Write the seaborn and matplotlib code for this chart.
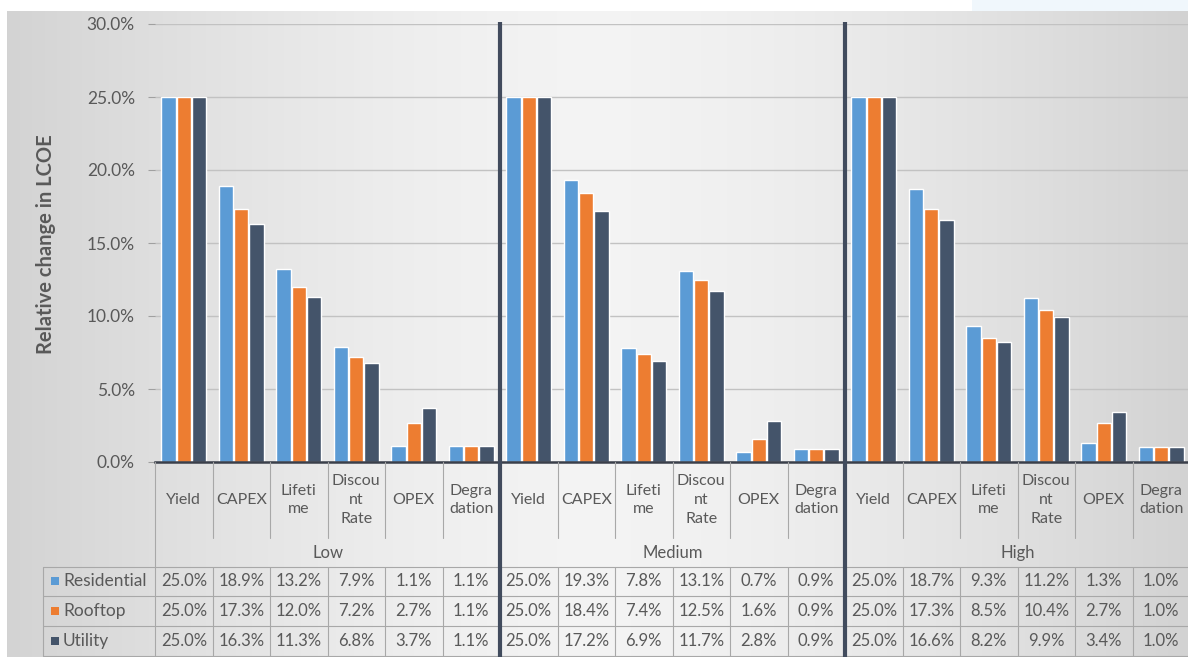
import numpy as np
import pandas as pd
import matplotlib
matplotlib.use("Agg")
import matplotlib.pyplot as plt
import seaborn as sns
from matplotlib import transforms
from matplotlib.lines import Line2D
from matplotlib.patches import Rectangle

# ---- data -----------------------------------------------------------------
groups = ["Low", "Medium", "High"]
factors = ["Yield", "CAPEX", "Lifeti\nme", "Discou\nnt\nRate", "OPEX", "Degra\ndation"]
series = ["Residential", "Rooftop", "Utility"]

residential = [25.0, 18.9, 13.2, 7.9, 1.1, 1.1,
               25.0, 19.3, 7.8, 13.1, 0.7, 0.9,
               25.0, 18.7, 9.3, 11.2, 1.3, 1.0]
rooftop = [25.0, 17.3, 12.0, 7.2, 2.7, 1.1,
           25.0, 18.4, 7.4, 12.5, 1.6, 0.9,
           25.0, 17.3, 8.5, 10.4, 2.7, 1.0]
utility = [25.0, 16.3, 11.3, 6.8, 3.7, 1.1,
           25.0, 17.2, 6.9, 11.7, 2.8, 0.9,
           25.0, 16.6, 8.2, 9.9, 3.4, 1.0]

yticks = [0, 5, 10, 15, 20, 25, 30]
colors = ["#5B9BD5", "#ED7D31", "#44546A"]
text_color = "#595959"

slots = [f"{g}|{f}" for g in groups for f in factors]
values = {"Residential": residential, "Rooftop": rooftop, "Utility": utility}
df = pd.DataFrame(
    [(s, name, v) for name in series for s, v in zip(slots, values[name])],
    columns=["slot", "series", "value"],
)

# ---- figure ---------------------------------------------------------------
W, H = 1188, 657
sns.set_theme(style="white")
plt.rcParams["font.family"] = ["Lato", "DejaVu Sans"]
fs = 12

fig = plt.figure(figsize=(W / 100, H / 100), dpi=100)


def fy(py):
    """pixel row (from top) -> figure fraction"""
    return 1 - py / H


def fx(px):
    return px / W


# soft horizontal gradient behind everything
bg = fig.add_axes([0, 0, 1, 1], zorder=-10)
t = np.linspace(-1, 1, W)
shade = 0.955 - 0.13 * np.abs(t) ** 1.5
rgb = np.dstack([np.tile(shade, (H, 1))] * 3)
rgb[:11, :, :] = 1.0
rgb[:11, 972:, :] = [0.945, 0.969, 0.992]
rgb[:, :7, :] = 1.0
bg.imshow(rgb, aspect="auto", extent=[0, W, H, 0], interpolation="bilinear")
bg.set_xlim(0, W)
bg.set_ylim(H, 0)
bg.axis("off")

# ---- bars -----------------------------------------------------------------
ax = fig.add_axes([fx(155), fy(462), 1035 / W, (462 - 24) / H])
ax.patch.set_alpha(0)
sns.barplot(data=df, x="slot", y="value", hue="series", order=slots,
            hue_order=series, palette=colors, saturation=1, width=0.8,
            gap=0.06, legend=False, ax=ax)

ax.set_xlim(-0.5, len(slots) - 0.5)
ax.set_ylim(0, 30)
ax.set_yticks(yticks)
ax.set_yticklabels([f"{v:.1f}%" for v in yticks])
ax.yaxis.grid(True, color="#c2c2c2", lw=1.0)
ax.set_axisbelow(True)
for side in ("left", "right", "top"):
    ax.spines[side].set_visible(False)
ax.spines["bottom"].set_color("#3a3f4a")
ax.spines["bottom"].set_linewidth(1.8)
ax.tick_params(axis="y", left=True, length=5, width=0.8, color="#a0a0a0",
               pad=9.5, labelsize=12.5, labelcolor=text_color)
ax.tick_params(axis="x", bottom=False, labelbottom=False)
ax.set_xlabel("")
ax.set_ylabel("")

fig.text(fx(46), fy(244), "Relative change in LCOE", rotation=90,
         ha="center", va="center", fontsize=14.5, fontweight="bold",
         color=text_color)

# ---- data table beneath the axis ------------------------------------------
tr = transforms.blended_transform_factory(ax.transData, fig.transFigure)
grid_col = "#a8a8a8"


def vline(x, py0, py1, trans=tr):
    fig.add_artist(Line2D([x, x], [fy(py0), fy(py1)], transform=trans,
                          color=grid_col, lw=0.8))


row_tops = [567, 596, 626, 656]
row_mid = [581, 611, 641]

# left border of the category block
vline(-0.5, 462, 656)
# separators between categories
for i in range(1, len(slots)):
    if i % len(factors) == 0:
        continue
    vline(i - 0.5, 462, 538)
    vline(i - 0.5, row_tops[0], row_tops[-1])

# horizontal rules of the value rows, running into the legend column
tr_fig = fig.transFigure
x_leg = fx(43)
x_end = fx(W)
for py in row_tops:
    fig.add_artist(Line2D([x_leg, x_end], [fy(py), fy(py)], transform=tr_fig,
                          color=grid_col, lw=0.8))
fig.add_artist(Line2D([x_leg, x_leg], [fy(row_tops[0]), fy(row_tops[-1])],
                      transform=tr_fig, color=grid_col, lw=0.8))

# category names and group names
for i, s in enumerate(slots):
    g, f = s.split("|")
    fig.text(i, fy(500), f, transform=tr, ha="center", va="center",
             fontsize=11.5, color=text_color, linespacing=1.45)
for gi, g in enumerate(groups):
    xc = gi * len(factors) + (len(factors) - 1) / 2
    fig.text(xc, fy(553), g, transform=tr, ha="center", va="center",
             fontsize=fs, color=text_color)

# legend keys, series names and values
for r, name in enumerate(series):
    ym = row_mid[r]
    fig.add_artist(Rectangle((fx(51), fy(ym + 4)), 8 / W, 8 / H,
                             transform=tr_fig, color=colors[r], lw=0))
    fig.text(fx(63), fy(ym), name, ha="left", va="center",
             fontsize=fs + 0.5, color=text_color)
    for i, v in enumerate(values[name]):
        fig.text(i, fy(ym), f"{v:.1f}%", transform=tr, ha="center",
                 va="center", fontsize=fs, color=text_color)

# heavy dividers between the Low / Medium / High blocks
for k in range(1, len(groups)):
    xd = k * len(factors) - 0.5
    fig.add_artist(Line2D([xd, xd], [fy(22), fy(H)], transform=tr,
                          color="#414b5d", lw=3.0, solid_capstyle="butt"))

fig.savefig("out.png", dpi=100)
